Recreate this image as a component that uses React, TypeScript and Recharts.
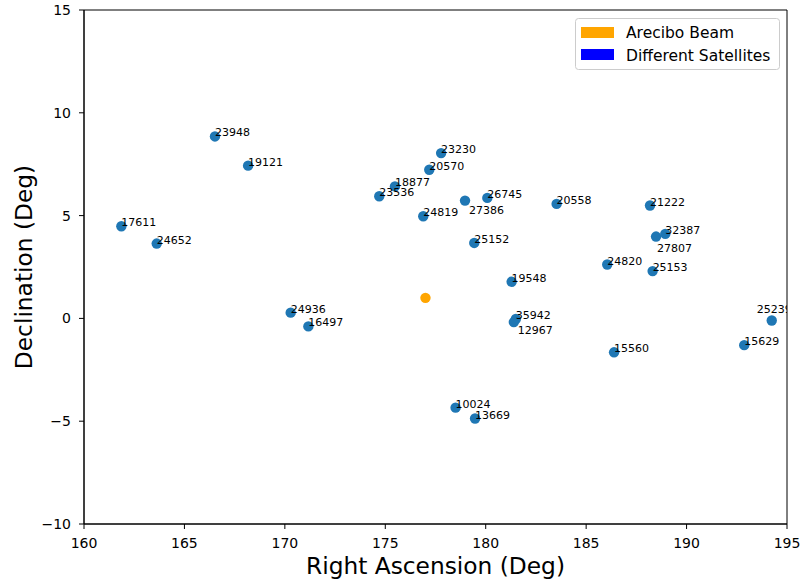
import { ReferenceArea, Scatter, ScatterChart, XAxis, YAxis } from "recharts";

// satellites seen in the beam field
const satNames = [
  "23948", "19121", "17611", "24652", "23230", "20570", "18877", "23536",
  "27386", "26745", "24819", "25152", "20558", "19548", "35942", "12967",
  "21222", "27807", "32387", "24820", "25153", "25239", "15629", "15560",
  "24936", "16497", "10024", "13669",
];
const satRa = [
  166.52, 168.17, 161.86, 163.62, 177.78, 177.19, 175.48, 174.7,
  178.97, 180.08, 176.89, 179.43, 183.53, 181.29, 181.5, 181.4,
  188.18, 188.48, 188.94, 186.05, 188.31, 194.24, 192.87, 186.39,
  170.29, 171.17, 178.5, 179.47,
];
const satDec = [
  8.85, 7.43, 4.48, 3.64, 8.04, 7.23, 6.42, 5.94,
  5.73, 5.86, 4.97, 3.67, 5.57, 1.78, -0.03, -0.18,
  5.49, 3.98, 4.11, 2.62, 2.3, -0.1, -1.3, -1.65,
  0.28, -0.39, -4.34, -4.87,
];

const beamRa = [177.0];
const beamDec = [1.0];

const xTicks = [160, 165, 170, 175, 180, 185, 190, 195];
const yTicks = [-10, -5, 0, 5, 10, 15];

// labels that were moved off their point so they don't collide
const labelNudge: Record<string, [number, number]> = {
  "27386": [4, 13],
  "12967": [4, 12],
  "27807": [1, 15],
  "25239": [-15, -7],
};

const FONT = "DejaVu Sans";
const BLUE = "#1f77b4";
const ORANGE = "#ffa500";

const sats = satNames.map((name, i) => ({ name, ra: satRa[i], dec: satDec[i] }));
const beam = beamRa.map((ra, i) => ({ ra, dec: beamDec[i] }));

const fmt = (v: number) => String(v).replace("-", "\u2212");

function Dot(color: string) {
  return (p: any) => <circle cx={p.cx} cy={p.cy} r={5.2} fill={color} />;
}

function Tag(p: any) {
  const name = p.payload?.name ?? "";
  const [dx, dy] = labelNudge[name] ?? [0, 0];
  return (
    <text x={p.cx + dx} y={p.cy + dy} fontSize={11} fontFamily={FONT} fill="#000">
      {name}
    </text>
  );
}

function YTitle(props: any) {
  const vb = props.viewBox ?? { x: 0, y: 10, width: 84, height: 514 };
  const cx = vb.x + 32;
  const cy = vb.y + vb.height / 2;
  return (
    <text
      x={cx}
      y={cy}
      transform={`rotate(-90 ${cx} ${cy})`}
      textAnchor="middle"
      fontSize={23.3}
      fontFamily={FONT}
      fill="#000"
    >
      Declination (Deg)
    </text>
  );
}

export default function App() {
  return (
    <div style={{ position: "absolute", top: 0, left: 0, width: 803, height: 584, background: "#fff" }}>
      <ScatterChart width={803} height={584} margin={{ top: 10, right: 16, bottom: 0, left: 0 }}>
        <XAxis
          type="number"
          dataKey="ra"
          domain={[160, 195]}
          ticks={xTicks}
          allowDataOverflow
          height={60}
          stroke="#000"
          tickSize={5}
          tickMargin={9}
          tickFormatter={fmt}
          tick={{ fill: "#000", fontSize: 14, fontFamily: FONT }}
          label={{
            value: "Right Ascension (Deg)",
            position: "insideBottom",
            offset: 10,
            style: { fill: "#000", fontSize: 23.3, fontFamily: FONT },
          }}
        />
        <YAxis
          type="number"
          dataKey="dec"
          domain={[-10, 15]}
          ticks={yTicks}
          allowDataOverflow
          width={84}
          stroke="#000"
          tickSize={5}
          tickMargin={8}
          tickFormatter={fmt}
          tick={{ fill: "#000", fontSize: 14, fontFamily: FONT }}
          label={<YTitle />}
        />
        <ReferenceArea x1={160} x2={195} y1={-10} y2={15} fill="none" stroke="#000" strokeOpacity={1} ifOverflow="visible" />
        <Scatter data={sats} shape={Dot(BLUE)} isAnimationActive={false} />
        <Scatter data={beam} shape={Dot(ORANGE)} isAnimationActive={false} />
        <Scatter data={sats} shape={Tag} isAnimationActive={false} />
      </ScatterChart>
      <svg width={803} height={584} style={{ position: "absolute", top: 0, left: 0, pointerEvents: "none" }}>
        <rect x={575.5} y={18.5} width={204} height={51} rx={3} fill="#fff" fillOpacity={0.8} stroke="#ccc" />
        <rect x={581} y={27} width={33} height={11} fill={ORANGE} />
        <rect x={581} y={49} width={33} height={11} fill="#0000ff" />
        <text x={626} y={38} fontSize={15.5} fontFamily={FONT} fill="#000">Arecibo Beam</text>
        <text x={626} y={60.5} fontSize={15.5} fontFamily={FONT} fill="#000">Different Satellites</text>
      </svg>
    </div>
  );
}
